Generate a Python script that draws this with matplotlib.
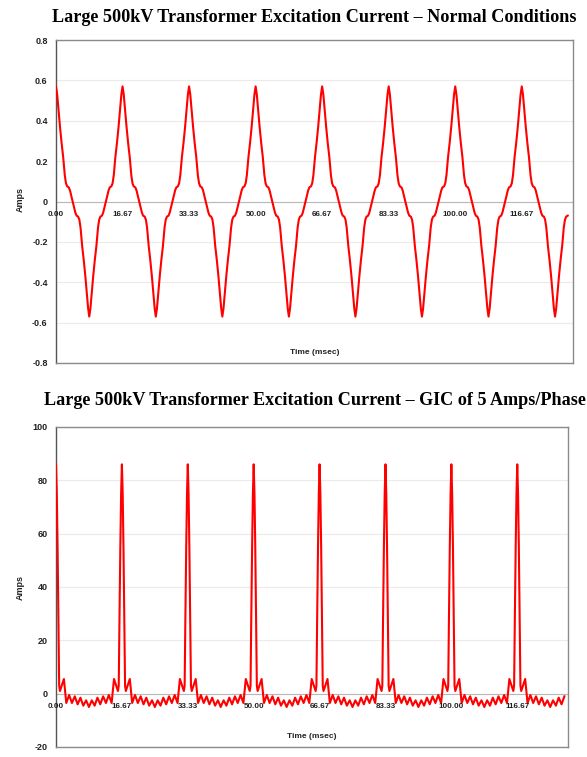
import numpy as np
import matplotlib
matplotlib.use("Agg")
import matplotlib.pyplot as plt
import matplotlib.transforms as mtransforms

# ==========================================
# Data: one 60 Hz cycle of each waveform (msec, Amps)
# ==========================================
period_ms = 1000.0 / 60.0
t_end_normal = 128.3
t_end_gic = 128.7

normal_cycle_t = [0.00, 0.30, 0.60, 1.00, 1.40, 1.80, 2.20, 2.50, 2.80, 3.20, 3.50, 3.80,
                  4.17, 4.55, 4.85, 5.15, 5.55, 5.85, 6.15, 6.55, 6.95, 7.35, 7.75, 8.05,
                  8.33, 8.62, 8.92, 9.32, 9.72, 10.12, 10.52, 10.82, 11.12, 11.52, 11.82,
                  12.12, 12.50, 12.87, 13.17, 13.47, 13.87, 14.17, 14.47, 14.87, 15.27,
                  15.67, 16.07, 16.37]
normal_cycle_amps = [0.57, 0.53, 0.46, 0.37, 0.29, 0.22, 0.13, 0.09, 0.075, 0.07, 0.055, 0.03,
                     0.00, -0.03, -0.055, -0.07, -0.075, -0.09, -0.13, -0.22, -0.29, -0.37, -0.46, -0.53,
                     -0.57, -0.53, -0.46, -0.37, -0.29, -0.22, -0.13, -0.09, -0.075, -0.07, -0.055,
                     -0.03, 0.00, 0.03, 0.055, 0.07, 0.075, 0.09, 0.13, 0.22, 0.29,
                     0.37, 0.46, 0.53]

gic_cycle_t = [0.00, 0.20, 0.40, 0.60, 0.75, 0.80, 1.00, 2.00,
               2.60, 3.32, 4.03, 4.75, 5.47, 6.18, 6.90, 7.62, 8.33,
               9.05, 9.77, 10.48, 11.20, 11.92, 12.63, 13.35, 14.07,
               14.67, 15.67, 15.87, 15.92, 16.07, 16.27, 16.47]
gic_cycle_amps = [86.0, 75.0, 55.0, 30.0, 10.0, 3.0, 1.0, 5.5,
                  -3.5, -0.5, -3.5, -1.0, -4.0, -1.5, -4.5, -2.5, -5.0,
                  -2.5, -4.5, -1.5, -4.0, -1.0, -3.5, -0.5, -3.5,
                  5.5, 1.0, 3.0, 10.0, 30.0, 55.0, 75.0]

tick_times = [0.00, 16.67, 33.33, 50.00, 66.67, 83.33, 100.00, 116.67]
normal_yticks = [0.8, 0.6, 0.4, 0.2, 0, -0.2, -0.4, -0.6, -0.8]
gic_yticks = [100, 80, 60, 40, 20, 0, -20]

title_normal = "Large 500kV Transformer Excitation Current \u2013 Normal Conditions"
title_gic = "Large 500kV Transformer Excitation Current \u2013 GIC of 5 Amps/Phase"


def repeat_cycle(cycle_t, cycle_vals, t_end):
    ts = np.concatenate([np.array(cycle_t) + k * period_ms for k in range(9)])
    vs = np.concatenate([np.array(cycle_vals) for k in range(9)])
    keep = ts <= t_end
    return ts[keep], vs[keep]


def draw_panel(ax, t, amps, yticks, ylim, fmt):
    ax.plot(t, amps, color="#ff0000", lw=1.5, zorder=3)
    ax.set_xlim(0, 129.5)
    ax.set_ylim(*ylim)
    ax.set_xticks([])
    ax.set_yticks(yticks)
    ax.set_yticklabels([fmt(v) for v in yticks], fontsize=6.5, fontweight="bold",
                       family="Liberation Sans", color="#222222")
    ax.tick_params(axis="y", length=0, pad=6)
    for v in yticks:
        ax.axhline(v, color="#efeaea", lw=0.8, zorder=1)
    ax.axhline(0, color="#b8b8b8", lw=0.8, zorder=2)
    for name, sp in ax.spines.items():
        sp.set_color("#8a8a8a")
        sp.set_linewidth(1.0)
    ax.spines["left"].set_color("#555555")
    # category labels sit just under the zero line, like the original sheet
    off = mtransforms.offset_copy(ax.transData, fig=ax.figure, x=0, y=-13, units="dots")
    for tt in tick_times:
        ax.text(tt, 0, f"{tt:.2f}", transform=off, ha="center", va="center",
                fontsize=5.8, fontweight="bold", family="Liberation Sans", color="#222222", zorder=4)
    ax.text(0.5, 0.033, "Time (msec)", transform=ax.transAxes, ha="center", va="center",
            fontsize=6.0, fontweight="bold", family="Liberation Sans", color="#222222")


fig = plt.figure(figsize=(5.87, 7.57), dpi=100)

ax1 = fig.add_axes([56 / 587, 1 - 363 / 757, (573 - 56) / 587, (363 - 40) / 757])
ax2 = fig.add_axes([56 / 587, 1 - 747 / 757, (568 - 56) / 587, (747 - 427) / 757])

t1, a1 = repeat_cycle(normal_cycle_t, normal_cycle_amps, t_end_normal)
t2, a2 = repeat_cycle(gic_cycle_t, gic_cycle_amps, t_end_gic)

draw_panel(ax1, t1, a1, normal_yticks, (-0.8, 0.8), lambda v: "0" if v == 0 else f"{v:.1f}")
draw_panel(ax2, t2, a2, gic_yticks, (-20, 100), lambda v: f"{v:d}")

fig.text(314 / 587, 1 - 17 / 757, title_normal, ha="center", va="center",
         fontsize=13.1, fontweight="bold", family="Liberation Serif")
fig.text(315 / 587, 1 - 400 / 757, title_gic, ha="center", va="center",
         fontsize=13.1, fontweight="bold", family="Liberation Serif")

fig.text(20 / 587, 1 - 200 / 757, "Amps", rotation=90, ha="center", va="center",
         fontsize=6.5, fontweight="bold", family="Liberation Sans", color="#222222")
fig.text(20 / 587, 1 - 588 / 757, "Amps", rotation=90, ha="center", va="center",
         fontsize=6.5, fontweight="bold", family="Liberation Sans", color="#222222")

fig.savefig("out.png", dpi=100)
